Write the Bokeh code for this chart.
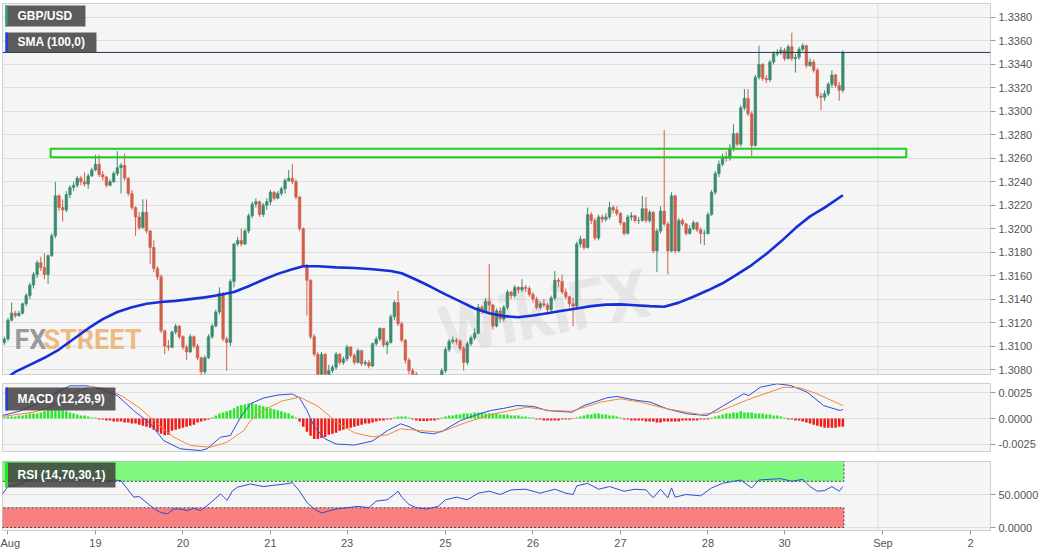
from bokeh.plotting import figure
from bokeh.models import (Range1d, FixedTicker, NumeralTickFormatter, Label, Span,
                          BoxAnnotation, ColumnDataSource)
from bokeh.layouts import column
from bokeh.embed import file_html
from bokeh.resources import INLINE

# ---------------- data (hourly GBP/USD candles, prices in pips above 1.3000) ----------------
BASE = 1.3000
hours = list(range(-1, 230))          # hour index, 0 = Aug 18 00:00 (weekend removed)
first_open_pips = 103
close_pips = [106,122,128,126,128,136,143,152,161,171,167,161,177,194,228,218,216,229,235,237,
              243,240,238,245,250,255,246,244,237,240,247,252,254,243,230,218,210,201,214,198,
              184,166,159,113,100,99,112,117,108,99,95,108,100,90,78,90,108,117,129,145,
              106,103,155,187,190,187,198,211,221,223,212,220,223,231,226,230,234,241,243,240,
              227,200,169,156,108,93,76,93,76,79,82,93,86,89,99,92,86,96,85,86,
              83,102,106,115,101,103,125,137,119,105,88,79,76,70,64,60,63,58,63,69,
              79,97,104,105,104,98,86,102,107,111,133,130,138,135,117,130,123,133,146,143,
              150,148,150,149,144,140,133,136,135,131,141,156,155,146,142,136,134,187,191,184,
              212,207,192,210,208,210,218,216,213,205,196,210,211,207,207,217,207,214,181,198,
              215,204,181,228,181,207,204,196,200,205,199,196,196,212,231,247,255,261,260,268,
              281,272,303,311,298,271,329,340,328,327,342,349,350,352,345,355,345,346,353,356,
              339,342,335,313,312,315,323,331,322,318,350.2]
high_pips = [108,124,137,130,130,137,145,154,163,173,176,179,178,196,240,229,225,232,237,240,
             245,245,248,247,252,263,263,249,245,242,249,266,256,264,244,233,219,214,225,225,
             199,190,168,161,114,105,113,119,118,109,101,110,109,102,91,92,110,119,131,150,
             146,108,157,188,193,200,200,213,223,226,224,222,226,233,232,232,236,243,250,255,
             242,228,201,170,157,110,95,95,94,84,84,95,94,91,101,100,94,98,97,88,
             88,103,108,116,115,105,127,139,147,121,106,90,81,78,72,66,66,65,66,72,
             81,99,106,108,107,106,100,104,109,115,136,135,141,170,136,132,133,135,148,147,
             152,151,157,152,151,146,142,138,140,137,143,164,158,161,149,143,141,189,194,192,
             218,214,209,212,212,213,223,220,219,214,206,212,214,212,210,228,227,216,215,200,
             219,284,206,231,229,209,209,205,203,207,206,201,199,214,233,249,258,264,266,272,
             289,282,305,319,319,300,331,356,341,331,344,351,353,355,354,357,367,349,355,358,
             357,345,344,337,316,318,325,335,332,325,352]
low_pips = [101,104,121,124,125,127,134,140,149,158,164,157,153,176,192,215,206,214,226,232,
            235,237,236,234,244,249,244,241,235,236,239,245,230,241,228,216,194,199,200,196,
            170,163,156,111,93,96,98,110,106,97,88,94,98,88,74,76,89,106,116,127,
            104,79,100,150,185,185,186,196,209,218,210,210,216,220,224,225,228,230,240,238,
            225,198,167,126,106,91,74,75,73,74,77,80,84,84,87,90,84,85,83,83,
            81,82,100,104,99,93,102,122,117,103,85,76,72,66,60,56,57,55,56,61,
            67,77,95,102,101,96,79,84,100,105,110,127,129,128,114,116,120,121,131,140,
            141,145,146,146,142,137,131,131,133,128,129,139,150,144,140,133,117,132,184,182,
            183,204,190,190,205,206,208,213,211,203,194,195,207,205,204,206,205,205,179,163,
            196,202,161,180,179,180,202,194,195,199,197,187,186,195,211,229,244,253,257,258,
            266,270,270,301,296,262,270,327,326,324,325,340,347,348,343,344,343,333,344,351,
            337,338,333,311,301,309,313,320,320,309,316]

# 100-period SMA, read at points (hour, pips)
sma_h = [-1,2,6,10,14,18,22,26,30,34,38,42,46,50,54,58,62,66,70,74,78,81,85,90,95,100,105,108,
         112,116,120,124,128,132,136,140,144,148,152,156,160,164,168,172,176,180,184,188,192,196,
         200,204,208,212,216,220,224,229]
sma_pips = [71,78,84,90,97,106,115,123,129,133,136,137.5,138.5,140,141.5,143.5,146,151,156.5,161.5,
            165.5,168,168,167,166.5,165.5,164,162,156.5,150.5,144,138,132,128,125.5,124.5,126,128,130,
            132,134,135.3,135.5,134.8,134,133.5,137,142,147.5,153.5,161,169,178.5,189,200.5,210.5,218,228.5]

last_price = 1.33502
zone_low, zone_high = 1.32609, 1.32681
zone_start_h, zone_end_h = 11.7, 246.4

# MACD (12,26,9), values in units of 0.0001
macd_h = [-1.5,3,7,11.7,14,17,21.7,25.4,30,34.5,39.1,42.7,47.3,52.8,54.6,58.3,61,63.8,66.5,70,74,78,
          80,82,84,87,90,95,100,104,107.7,110,113,116.8,119.5,124.1,128,132.3,136,139.6,144.2,147.9,
          151,154.7,158,164.3,167.1,171.6,176.2,180.8,186.3,191.7,196.3,201.8,203.2,206.4,211,214.6,
          219.2,223.7,228.3,229]
macd_v = [3,7,12.7,22.5,27,32,32,29,22.5,7.8,-5.2,-21.6,-29.7,-31.4,-29.7,-18.3,-16.7,1.3,14.4,20,23,24,
          20,8,-8,-20,-25,-26,-22,-12,-5.2,-8,-13.4,-15,-11.8,-2,3,7.8,10,12.7,11.8,7.8,
          7,6.2,12.7,20.3,21.6,18.3,16,9.5,4.6,2.9,12.7,24.2,22.5,30.7,34,32.4,
          25.8,12.7,7.8,9]
signal_h = [-1.5,7,11.7,17.1,22.6,27.2,31.8,36.4,41,45.5,50.1,55.5,60.1,64.7,66.5,70,75,80,85,90,95,
            100,104,107.7,113.1,118.6,125.9,133.2,142.4,148.8,154.7,162.5,168,173.5,180.8,189.9,194.5,
            203.6,212.8,217.3,221.9,229]
signal_v = [2,6.2,11,24.2,31.4,29,20.9,9.5,-5.2,-18.3,-26.5,-28.1,-23.2,-11.8,-2,8,17,21,12,-3,-14,
            -18,-16,-10.1,-11.8,-13.4,-3.6,4.6,11.1,7.8,7.2,16,19.3,16,9.5,3.9,6.2,
            19.3,30.7,30.1,24.2,12.7]
hist_v = [1,2,2,2,3,3,4,5,5,5,6,7,8,8,8,8,8,7,6,5,4,3,3,2,1,1,
          -1,-1,-2,-2,-3,-3,-3,-4,-4,-5,-5,-6,-7,-8,-9,-11,-13,-15,-16.5,-16,-12,-11,-10,-9,-8,-7,-6,-4,-3,-2,-1,
          1,3,5,6,7,8,10,12,13,14,15,15,14,13,12,11,10,9,8,7,6,5,3,1,
          -3,-8,-13,-17,-20,-20,-19,-18,-16,-15,-14,-12,-11,-10,-9,-8,-7,-6,-5,-5,-4,-3,-2,-2,-1,-1,1,2,
          2,2,1,
          -1,-2,-2.5,-2.5,-2.5,-2,-2,-1,
          1,2,3,3,4,4,5,5,5,6,6,6,5,5,5,5,4,4,4,3,3,3,2,2,1,1,
          -1,-1,-2,-2,-2,-2,-2,-1,-1,-1,-0.5,
          1,2,3,4,4,5,5,4,4,3,3,2,1,
          -1,-1,-2,-2,-2,-2,-3,-3,-3,-4,-4,-3,-3,-3,-3,-3,-2,-2,-2,-2,-2,-1,-1,-1,
          1,2,3,4,5,5,6,6,7,6,6,6,5,5,5,4,4,3,3,2,1,
          -1,-1,-2,-2,-3,-4,-5,-6,-7,-8,-9,-9,-9,-9,-8,-8]

# RSI (14,70,30,1)
rsi_h = [-1.5,0,2,3.5,5,7,9,11,13,15,17,19,21,23,25,27,29,31,32.7,34.5,36,37.3,39.1,40.5,41.8,43.7,45.5,
         47.3,49.1,51,52.8,54.6,56.5,58.3,60.1,61.5,62.9,66.5,70,73,76,78,80,82,84,86,88,90,93,96,99,101,
         104,106,107,108,110,112,115,118,120,123,126,129,132,135,138,142,146,150,153,155,156,159,162,
         165,169,172,175,177,179,181,182,183,186,190,193,196,199,201,204,206,209,212,215,218,220,222,
         224,226,228,229]
rsi_v = [51,62,64,66,71,74,75,77,82,78,76,77,75,77,74,70,72,71,58.6,46,47,41,33,27,23,20.7,28,
         28,25.7,29,25.7,33,42,51,41,55,61,66,62,64,66,68,55,38,28,22,25,28,30,32,30,40,
         42,50,55,46,35,30,28,32,42,46,42,52,55,50,57,58,52,58,52,50,63,67,58,
         62,55,58,57,45,58,45,60,46,50,48,60,67,70,72,60,72,73,74,70,73,62,55,
         56,62,55,62]

x_ticks = [0, 24, 48, 72, 93, 120, 144, 168, 192, 213, 240, 264]
x_labels = ["Aug", "19", "20", "21", "23", "25", "26", "27", "28", "30", "Sep", "2"]
main_ticks = [1.3080, 1.3100, 1.3120, 1.3140, 1.3160, 1.3180, 1.3200, 1.3220, 1.3240, 1.3260,
              1.3280, 1.3300, 1.3320, 1.3340, 1.3360, 1.3380]
macd_ticks = [-0.0025, 0.0, 0.0025]
rsi_ticks = [0, 50]

# ---------------- derived ----------------
close = [BASE + v / 1e4 for v in close_pips]
high = [BASE + v / 1e4 for v in high_pips]
low = [BASE + v / 1e4 for v in low_pips]
open_ = [BASE + first_open_pips / 1e4] + close[:-1]
UP, DOWN = "#398b6d", "#d0604b"
cols = [UP if c >= o else DOWN for o, c in zip(open_, close)]
candles = ColumnDataSource(dict(x=hours, o=open_, c=close, h=high, l=low,
                                top=[max(a, b) for a, b in zip(open_, close)],
                                bot=[min(a, b) for a, b in zip(open_, close)], col=cols))

# helpers translating reference pixel positions to data units (for labels only)
def hx(px):
    return (px - 7.5) / 3.646
def ym(py):
    return 1.338 - (py - 17) / 11733
def yd(py):
    return (418 - py) / 1.02 / 1e4
def yr(py):
    return (527 - py) / 0.66

FONT = "Liberation Sans"
xr = Range1d(-1.5, 269.5)
FW = 988
LB = 2
RB = 54

def style(p):
    p.background_fill_color = "#f5f5f5"
    p.border_fill_color = "white"
    p.outline_line_color = "#cfcfcf"
    p.xgrid.visible = False
    p.ygrid.grid_line_color = "#dedede"
    ax = p.yaxis[0]
    ax.formatter = NumeralTickFormatter(format="0.0000")
    ax.axis_line_color = None
    ax.major_tick_line_color = "#9a9a9a"
    ax.major_tick_out = 5
    ax.major_tick_in = 0
    ax.minor_tick_line_color = None
    ax.major_label_text_color = "#555555"
    ax.major_label_text_font = FONT
    ax.major_label_text_font_size = "11px"
    ax.major_label_standoff = 3
    p.add_layout(Span(location=238.6, dimension="height", line_color="#dcdcdc", line_width=1))

def tag(p, x0, x1, y0, y1, yfun, text, stripe):
    p.add_layout(BoxAnnotation(left=hx(x0), right=hx(x1), top=yfun(y0), bottom=yfun(y1),
                               fill_color="#3a3a3a", fill_alpha=0.82, line_color=None))
    p.add_layout(BoxAnnotation(left=hx(x0), right=hx(x0 + 2.5), top=yfun(y0), bottom=yfun(y1),
                               fill_color=stripe, fill_alpha=1, line_color=None))
    p.add_layout(Label(x=hx(x0 + 12), y=yfun((y0 + y1) / 2), text=text, text_color="white",
                       text_font=FONT, text_font_size="12px", text_font_style="bold",
                       text_baseline="middle"))

# ---------------- main price panel ----------------
p1 = figure(frame_width=FW, frame_height=372, x_range=xr, y_range=Range1d(1.30749, 1.33919),
            y_axis_location="right", x_axis_location=None, toolbar_location=None,
            output_backend="svg", min_border_left=LB, min_border_right=RB,
            min_border_top=3, min_border_bottom=0)
style(p1)
p1.yaxis.ticker = FixedTicker(ticks=main_ticks)

p1.add_layout(Label(x=hx(447), y=ym(372), text="WikiFX", angle=11, angle_units="deg",
                    text_font="Roboto", text_font_size="68px", text_font_style="bold",
                    text_color="#c4c4c4", text_alpha=0.3, level="underlay"))
p1.add_layout(Label(x=hx(14), y=ym(355), text="FX", text_font="Roboto", text_font_size="27px",
                    text_font_style="bold", text_color="#8a8a8a", text_alpha=0.85, level="underlay"))
p1.add_layout(Label(x=hx(43), y=ym(355), text="STREET", text_font="Roboto", text_font_size="27px",
                    text_font_style="bold", text_color="#e9ac62", text_alpha=0.8, level="underlay"))

p1.segment(x0="x", y0="h", x1="x", y1="l", color="col", line_width=1, source=candles)
p1.vbar(x="x", width=0.7, top="top", bottom="bot", fill_color="col", line_color="col",
        line_width=0.6, source=candles)
p1.line(sma_h, [BASE + v / 1e4 for v in sma_pips], line_color="#1430d6", line_width=2.6)

p1.add_layout(BoxAnnotation(left=zone_start_h, right=zone_end_h, bottom=zone_low, top=zone_high,
                            fill_alpha=0, line_color="#1fcc1f", line_alpha=1, line_width=2))
p1.add_layout(Span(location=last_price, dimension="width", line_color="#1f355a", line_width=1))
p1.add_layout(Label(x=hx(998), y=last_price, text="1.33502", text_color="white",
                    text_font=FONT, text_font_size="11px", text_font_style="bold",
                    text_baseline="middle", background_fill_color="#1f3a5f", padding=2))

tag(p1, 5, 85, 5, 26, ym, "GBP/USD", "#2e9a6e")
tag(p1, 5, 96, 32, 52, ym, "SMA (100,0)", "#1f3fe0")

# ---------------- MACD panel ----------------
p2 = figure(frame_width=FW, frame_height=69, x_range=xr, y_range=Range1d(-0.00333, 0.00343),
            y_axis_location="right", x_axis_location=None, toolbar_location=None,
            output_backend="svg", min_border_left=LB, min_border_right=RB,
            min_border_top=8, min_border_bottom=0)
style(p2)
p2.yaxis.ticker = FixedTicker(ticks=macd_ticks)
hist_cols = ["#2ee62e" if v >= 0 else "#f01c1c" for v in hist_v]
p2.vbar(x=hours, width=0.7, top=[v / 1e4 for v in hist_v], bottom=0, fill_color=hist_cols,
        line_color=None)
p2.line(macd_h, [v / 1e4 for v in macd_v], line_color="#2c4fd8", line_width=1)
p2.line(signal_h, [v / 1e4 for v in signal_v], line_color="#ee8a3c", line_width=1)
tag(p2, 5, 115, 387, 410, yd, "MACD (12,26,9)", "#1f3fe0")

# ---------------- RSI panel ----------------
p3 = figure(frame_width=FW, frame_height=69, x_range=xr, y_range=Range1d(-4.5, 100),
            y_axis_location="right", toolbar_location=None, output_backend="svg",
            min_border_left=LB, min_border_right=RB, min_border_top=9, min_border_bottom=18)
style(p3)
p3.yaxis.ticker = FixedTicker(ticks=rsi_ticks)
band_end = 229.3
p3.add_layout(BoxAnnotation(left=-10, right=band_end, bottom=70, top=101, fill_color="#80f880",
                            fill_alpha=1, line_color="#444444", line_alpha=1, line_dash="2 2",
                            line_width=1, level="underlay"))
p3.add_layout(BoxAnnotation(left=-10, right=band_end, bottom=0, top=30, fill_color="#f88080",
                            fill_alpha=1, line_color="#444444", line_alpha=1, line_dash="2 2",
                            line_width=1, level="underlay"))
p3.line(rsi_h, rsi_v, line_color="#2c4fd0", line_width=1)
tag(p3, 5, 115, 462, 487, yr, "RSI (14,70,30,1)", "#22ee22")

xa = p3.xaxis[0]
xa.ticker = FixedTicker(ticks=x_ticks)
xa.major_label_overrides = {t: l for t, l in zip(x_ticks, x_labels)}
xa.axis_line_color = None
xa.major_tick_line_color = "#9a9a9a"
xa.major_tick_out = 4
xa.major_tick_in = 0
xa.minor_tick_line_color = None
xa.major_label_text_color = "#555555"
xa.major_label_text_font = FONT
xa.major_label_text_font_size = "11px"
xa.major_label_standoff = 2

layout = column(p1, p2, p3)
open("out.html", "w").write(file_html(layout, INLINE))
